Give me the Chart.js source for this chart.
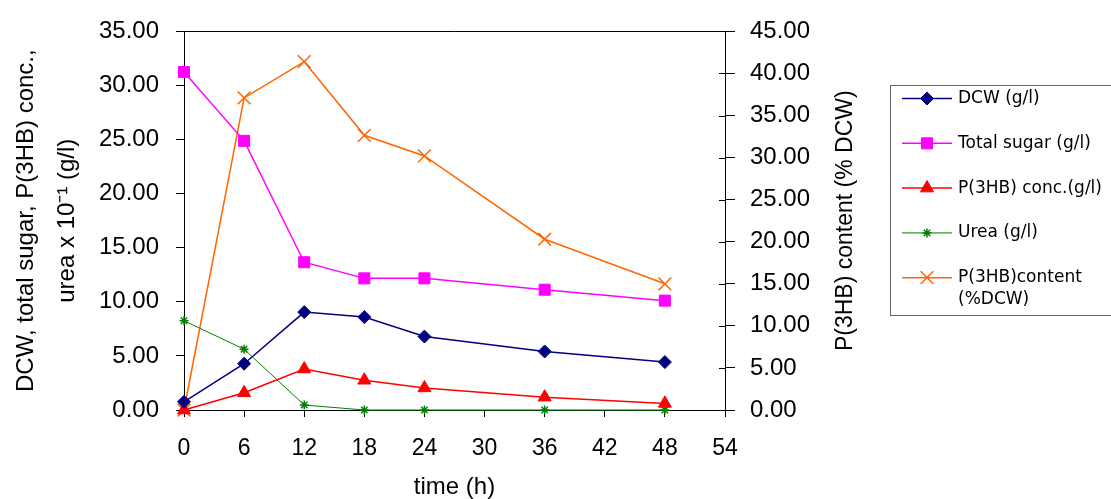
<!DOCTYPE html>
<html>
<head>
<meta charset="utf-8">
<script src="https://cdn.jsdelivr.net/npm/chart.js@4.4.1/dist/chart.umd.min.js"></script>
<style>
html, body { margin: 0; padding: 0; background: #fff; }
#wrap { width: 1111px; height: 499px; }
</style>
</head>
<body>
<div id="wrap"><canvas id="chart" width="1111" height="499"></canvas></div>
<script>
// time points (h)
const timeH = [0, 6, 12, 18, 24, 36, 48];

// left axis series
const dcw = [0.76, 4.28, 9.05, 8.59, 6.79, 5.41, 4.43];
const totalSugar = [31.24, 24.88, 13.66, 12.17, 12.17, 11.12, 10.11];
const phbConc = [0.0, 1.59, 3.79, 2.75, 2.04, 1.19, 0.61];
const urea = [8.25, 5.62, 0.46, 0.0, 0.0, 0.0, 0.0];

// right axis series
const phbContent = [0.0, 37.1, 41.4, 32.65, 30.2, 20.3, 15.0];

const seriesLabels = ['DCW (g/l)', 'Total sugar (g/l)', 'P(3HB) conc.(g/l)', 'Urea (g/l)', ['P(3HB)content', '(%DCW)']];
const leftTitle = ['DCW, total sugar, P(3HB) conc.,', 'urea x 10\u207B\u00B9 (g/l)'];
const rightTitle = 'P(3HB) content (% DCW)';
const xTitle = 'time (h)';

const FONT = '"Liberation Sans", Arial, sans-serif';

function pts(values) {
    return timeH.map((t, i) => ({ x: t, y: values[i] }));
}

// extra drawing: top frame, inner right ticks, right title, boxed legend
const extras = {
    id: 'extras',
    afterDraw(chart) {
        const { ctx, chartArea: a, scales } = chart;
        ctx.save();
        ctx.strokeStyle = '#000';
        ctx.lineWidth = 1;
        ctx.beginPath();
        ctx.moveTo(a.left, Math.round(a.top) + 0.5);
        ctx.lineTo(a.right, Math.round(a.top) + 0.5);
        const yr = scales.yRight;
        yr.ticks.forEach(t => {
            const py = Math.round(yr.getPixelForValue(t.value)) + 0.5;
            ctx.moveTo(a.right - 6, py);
            ctx.lineTo(a.right, py);
        });
        ctx.stroke();
        ctx.restore();

        // right axis title (reads bottom to top)
        ctx.save();
        ctx.translate(a.right + 121, (a.top + a.bottom) / 2);
        ctx.rotate(-Math.PI / 2);
        ctx.font = '23px ' + FONT;
        ctx.fillStyle = '#000';
        ctx.textAlign = 'center';
        ctx.textBaseline = 'middle';
        ctx.fillText(rightTitle, 0, 0);
        ctx.restore();

        // legend
        ctx.save();
        const bx = 890, by = 85, bh = 230;
        ctx.strokeStyle = '#666';
        ctx.lineWidth = 1;
        ctx.strokeRect(bx + 0.5, by + 0.5, 240, bh);
        ctx.font = '17px "DejaVu Sans", sans-serif';
        ctx.textBaseline = 'middle';
        ctx.textAlign = 'left';
        chart.data.datasets.forEach((ds, i) => {
            const y = by + 13.5 + i * 44.8;
            ctx.strokeStyle = ds.borderColor;
            ctx.fillStyle = ds.borderColor;
            ctx.lineWidth = ds.borderWidth;
            ctx.beginPath();
            ctx.moveTo(902, y);
            ctx.lineTo(952, y);
            ctx.stroke();
            ctx.lineWidth = ds.pointBorderWidth;
            Chart.helpers.drawPoint(ctx, {
                pointStyle: ds.pointStyle,
                radius: ds.pointRadius,
                rotation: 0,
                borderWidth: ds.pointBorderWidth
            }, 927, y);
            ctx.fillStyle = '#000';
            const lab = seriesLabels[i];
            const lines = Array.isArray(lab) ? lab : [lab];
            lines.forEach((ln, k) => ctx.fillText(ln, 958, y + k * 22));
        });
        ctx.restore();
    }
};

function ds(label, values, color, style, radius, lw, pbw, axis) {
    return {
        label: Array.isArray(label) ? label.join(' ') : label,
        data: pts(values),
        yAxisID: axis,
        borderColor: color,
        backgroundColor: color,
        borderWidth: lw,
        pointStyle: style,
        pointRadius: radius,
        pointBorderWidth: pbw,
        pointBackgroundColor: color,
        pointBorderColor: color,
        tension: 0,
        clip: false
    };
}

new Chart(document.getElementById('chart').getContext('2d'), {
    type: 'line',
    data: {
        datasets: [
            ds(seriesLabels[0], dcw, '#000080', 'rectRot', 6.5, 1.5, 1, 'y'),
            ds(seriesLabels[1], totalSugar, '#FF00FF', 'rect', 7.8, 1.5, 1, 'y'),
            ds(seriesLabels[2], phbConc, '#FF0000', 'triangle', 7.5, 1.5, 1, 'y'),
            ds(seriesLabels[3], urea, '#008000', 'star', 4.5, 1, 1.5, 'y'),
            ds(seriesLabels[4], phbContent, '#FF6600', 'crossRot', 9, 1.5, 1.5, 'yRight')
        ]
    },
    options: {
        responsive: false,
        animation: false,
        layout: { padding: { top: 23, left: 0, right: 0, bottom: 0 } },
        plugins: {
            legend: { display: false },
            tooltip: { enabled: false }
        },
        scales: {
            x: {
                type: 'linear',
                min: 0,
                max: 54,
                ticks: { stepSize: 6, color: '#000', font: { family: FONT, size: 23 }, padding: 18 },
                grid: { drawOnChartArea: false, tickLength: 7, color: '#000' },
                border: { color: '#000', width: 1 },
                title: { display: true, text: xTitle, color: '#000', font: { family: FONT, size: 24, lineHeight: 1.0 }, padding: { top: 0, bottom: 0 } },
                afterFit: s => { s.height = 89; }
            },
            y: {
                position: 'left',
                min: 0,
                max: 35,
                ticks: { stepSize: 5, color: '#000', font: { family: FONT, size: 24 }, padding: 17, callback: v => v.toFixed(2) },
                grid: { drawOnChartArea: false, tickLength: 8, color: '#000' },
                border: { color: '#000', width: 1 },
                title: { display: true, text: leftTitle, color: '#000', font: { family: FONT, size: 24, lineHeight: 1.7 }, padding: { top: 6, bottom: 0 } },
                afterFit: s => { s.width = 184; }
            },
            yRight: {
                position: 'right',
                min: 0,
                max: 45,
                ticks: { stepSize: 5, color: '#000', font: { family: FONT, size: 24 }, padding: 15, callback: v => v.toFixed(2) },
                grid: { drawOnChartArea: false, tickLength: 10, color: '#000' },
                border: { color: '#000', width: 1 },
                afterFit: s => { s.width = 386; }
            }
        }
    },
    plugins: [extras]
});
</script>
</body>
</html>
